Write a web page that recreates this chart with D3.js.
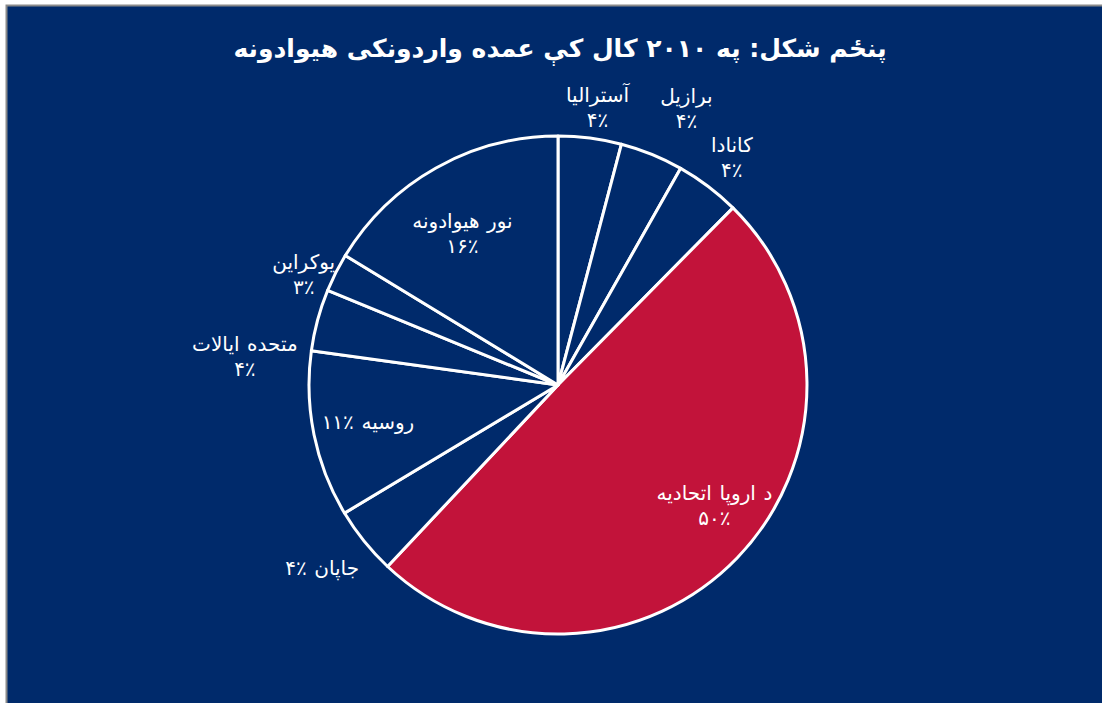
<!DOCTYPE html>
<html><head><meta charset="utf-8">
<script src="https://cdn.jsdelivr.net/npm/d3@7"></script>
<style>html,body{margin:0;padding:0;background:#fff;overflow:hidden}</style>
</head><body>
<script>
const titleText = "پنځم شکل: په ۲۰۱۰ کال کې عمده واردونکی هیوادونه";
const categories = ["آسترالیا","برازیل","کانادا","د اروپا اتحادیه","جاپان","روسیه","متحده ایالات","یوکراین","نور هیوادونه"];
const values = [4.1, 4.1, 4.2, 49.6, 4.4, 10.8, 4.0, 2.5, 16.3];
const pctLabels = ["۴٪","۴٪","۴٪","۵۰٪","۴٪","۱۱٪","۴٪","۳٪","۱۶٪"];
const colors = ["#002a6b","#002a6b","#002a6b","#c2133a","#002a6b","#002a6b","#002a6b","#002a6b","#002a6b"];

// label layout: inside or outside, single line or two lines, nudge
const labelLayout = [
  {inside:false, one:false, dx:3, dy:5},
  {inside:false, one:false, dx:21, dy:-13},
  {inside:false, one:false, dx:2, dy:-1},
  {inside:true, one:false, dx:16, dy:-15},
  {inside:false, one:true, dx:-14, dy:4},
  {inside:true, one:true, dx:1, dy:-2},
  {inside:false, one:false, dx:-38, dy:45},
  {inside:false, one:false, dx:0, dy:18},
  {inside:true, one:false, dx:0, dy:18}
];

const W = 1102, H = 703;
const svg = d3.select("body").append("svg").attr("width", W).attr("height", H);
svg.append("rect").attr("x",6.5).attr("y",5.5).attr("width",W).attr("height",H)
  .attr("fill","#002a6b").attr("stroke","#8a8a8a").attr("stroke-width",2);

svg.append("text").attr("x",560).attr("y",57).attr("text-anchor","middle")
  .attr("fill","#fff").attr("font-family","DejaVu Sans, Liberation Sans, sans-serif")
  .attr("font-weight","bold").attr("font-size",25).attr("direction","rtl")
  .text(titleText);

const cx = 558, cy = 385, R = 249;
const pie = d3.pie().sort(null).value(d => d);
const arcs = pie(values);
const arc = d3.arc().innerRadius(0).outerRadius(R);
const g = svg.append("g").attr("transform",`translate(${cx},${cy})`);
g.selectAll("path").data(arcs).join("path")
  .attr("d", arc).attr("fill",(d,i)=>colors[i])
  .attr("stroke","#fff").attr("stroke-width",3).attr("stroke-linejoin","round");

const arcIn = d3.arc().innerRadius(195).outerRadius(195);
const arcOut = d3.arc().innerRadius(285).outerRadius(285);
const lg = g.append("g").attr("fill","#fff")
  .attr("font-family","Liberation Sans, DejaVu Sans, sans-serif").attr("font-size",20)
  .attr("text-anchor","middle").attr("word-spacing",2);
arcs.forEach((a,i) => {
  const L = labelLayout[i];
  const c = (L.inside ? arcIn : arcOut).centroid(a);
  const x = c[0] + L.dx, y = c[1] + L.dy;
  if (L.one) {
    lg.append("text").attr("x",x).attr("y",y+7).attr("direction","rtl")
      .text(categories[i] + " \u2066" + pctLabels[i] + "\u2069");
  } else {
    lg.append("text").attr("x",x).attr("y",y-5).attr("direction","rtl").text(categories[i]);
    lg.append("text").attr("x",x).attr("y",y+20).text(pctLabels[i]);
  }
});
</script>
</body></html>
